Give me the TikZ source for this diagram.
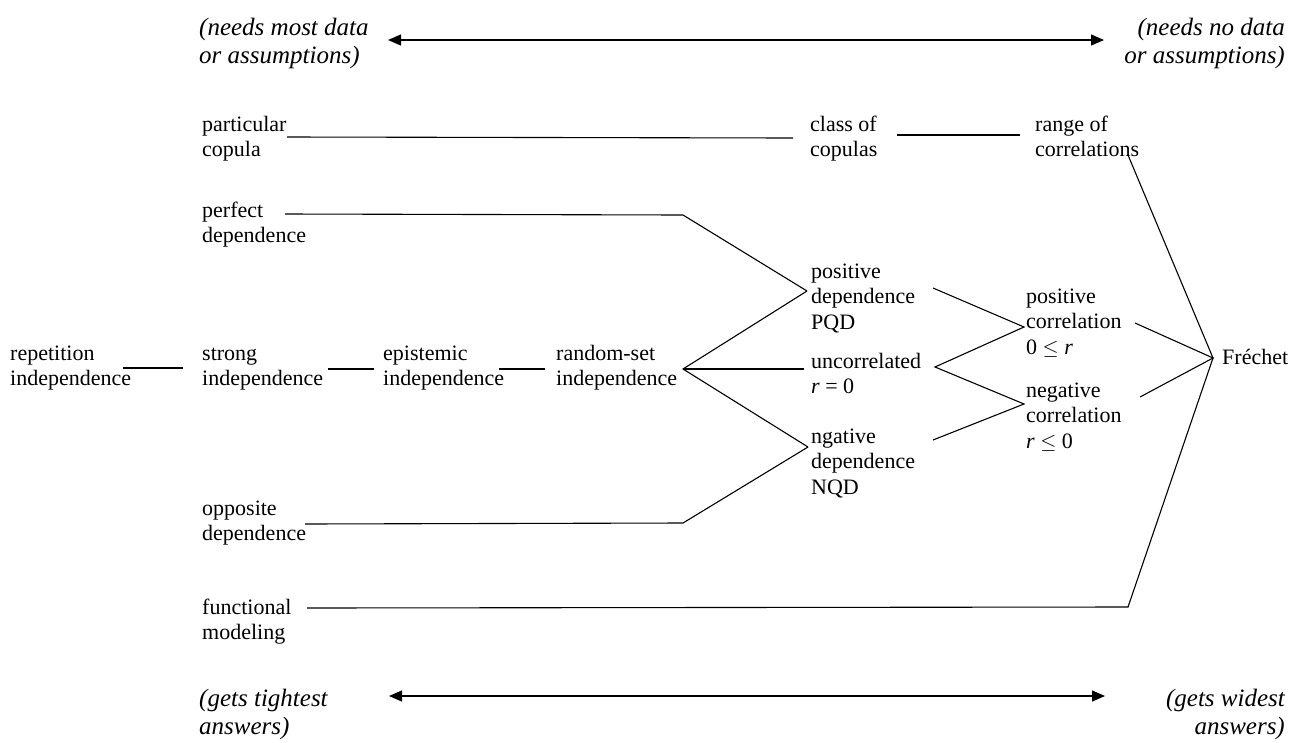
\documentclass[tikz,border=0pt]{standalone}
\usepackage{fontspec}
\setmainfont{Liberation Serif}
\usetikzlibrary{arrows.meta}
\newcommand\mlines[1]{\begin{tabular}[t]{@{}l@{}}#1\end{tabular}}
\newcommand\mlinesr[1]{\begin{tabular}[t]{@{}r@{}}#1\end{tabular}}
\begin{document}
\begin{tikzpicture}[x=1pt,y=-1pt,
  lbl/.style={anchor=base west,inner sep=0pt,font=\fontsize{22}{25.5}\selectfont},
  ital/.style={anchor=base west,inner sep=0pt,font=\fontsize{25}{28}\selectfont\itshape},
  italr/.style={anchor=base east,inner sep=0pt,font=\fontsize{25}{28}\selectfont\itshape},
  conn/.style={line width=1.1pt,line join=miter},
  span/.style={line width=1.3pt,{Triangle[length=13pt,width=11pt]}-{Triangle[length=13pt,width=11pt]}}]
\useasboundingbox (0,0) rectangle (1298,742);
% scale labels
\node[ital]  (nm) at (199,35)  {\mlines{(needs most data\\or assumptions)}};
\node[italr] (nn) at (1285,35) {\mlinesr{(needs no data\\or assumptions)}};
\node[ital]  (gt) at (199,706) {\mlines{(gets tightest\\answers)}};
\node[italr] (gw) at (1285,706){\mlinesr{(gets widest\\answers)}};
\coordinate (tA) at (388,40);  \coordinate (tB) at (1104,40);
\coordinate (bA) at (389,696); \coordinate (bB) at (1105,696);
\draw[span] (tA) -- (tB);
\draw[span] (bA) -- (bB);
% labels
\node[lbl] (part) at (202,131) {\mlines{particular\\copula}};
\node[lbl] (cls)  at (810,131) {\mlines{class of\\copulas}};
\node[lbl] (rng)  at (1035,131){\mlines{range of\\correlations}};
\node[lbl] (perf) at (202,217) {\mlines{perfect\\dependence}};
\node[lbl] (rep)  at (10,360)  {\mlines{repetition\\independence}};
\node[lbl] (str)  at (202,360) {\mlines{strong\\independence}};
\node[lbl] (epi)  at (383,360) {\mlines{epistemic\\independence}};
\node[lbl] (rs)   at (556,360) {\mlines{random-set\\independence}};
\node[lbl] (opp)  at (202,515) {\mlines{opposite\\dependence}};
\node[lbl] (fun)  at (202,614) {\mlines{functional\\modeling}};
\node[lbl] (pqd)  at (811,278) {\mlines{positive\\dependence\\PQD}};
\node[lbl] (unc)  at (811,368) {\mlines{uncorrelated\\\textit{r} = 0}};
\node[lbl] (nqd)  at (811,443) {\mlines{ngative\\dependence\\NQD}};
\node[lbl] (pc)   at (1026,303){\mlines{positive\\correlation\\0 $\le$ \textit{r}}};
\node[lbl] (nc)   at (1026,397){\mlines{negative\\correlation\\\textit{r} $\le$ 0}};
\node[lbl] (fre)  at (1222,364){Fréchet};
% junction points
\coordinate (partR) at (287,137); \coordinate (clsL) at (793,138);
\coordinate (clsR) at (897,135);  \coordinate (rngL) at (1020,135);
\coordinate (rngB) at (1128,155);
\coordinate (perfR) at (285,214); \coordinate (jP) at (683,215);
\coordinate (repR) at (123,368);  \coordinate (strL) at (183,368);
\coordinate (strR) at (328,369);  \coordinate (epiL) at (374,369);
\coordinate (epiR) at (499,369);  \coordinate (rsL) at (545,369);
\coordinate (jB) at (683,369);
\coordinate (oppR) at (305,524);  \coordinate (jO) at (683,523);
\coordinate (funR) at (307,608);  \coordinate (jF) at (1128,607);
\coordinate (pqdL) at (807,291);  \coordinate (uncL) at (804,369); \coordinate (nqdL) at (808,447);
\coordinate (pqdR) at (933,288);  \coordinate (uncR) at (935,367); \coordinate (nqdR) at (933,440);
\coordinate (pcL) at (1024,327);  \coordinate (ncL) at (1024,404);
\coordinate (pcR) at (1135,323);  \coordinate (ncR) at (1140,397);
\coordinate (freL) at (1213,358);
% connectors
\draw[conn] (partR) -- (clsL);
\draw[conn] (clsR) -- (rngL);
\draw[conn] (rngB) -- (freL);
\draw[conn] (perfR) -- (jP) -- (pqdL);
\draw[conn] (repR) -- (strL);
\draw[conn] (strR) -- (epiL);
\draw[conn] (epiR) -- (rsL);
\draw[conn] (pqdL) -- (jB) -- (nqdL);
\draw[conn] (jB) -- (uncL);
\draw[conn] (oppR) -- (jO) -- (nqdL);
\draw[conn] (funR) -- (jF) -- (freL);
\draw[conn] (pqdR) -- (pcL) -- (uncR) -- (ncL) -- (nqdR);
\draw[conn] (pcR) -- (freL) -- (ncR);
\end{tikzpicture}
\end{document}
